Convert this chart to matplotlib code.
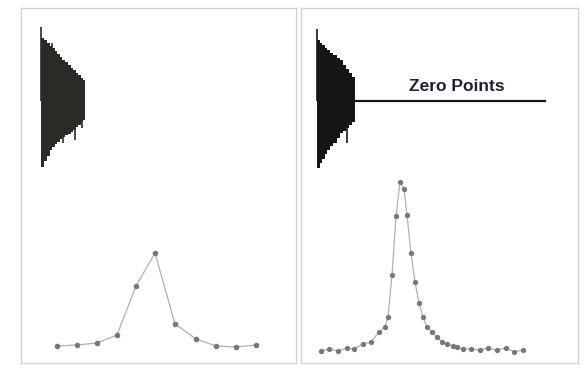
import matplotlib
matplotlib.use('Agg')
import matplotlib.pyplot as plt

# FID envelopes (time in px from panel edge, amplitude above/below baseline)
fid1_t = [20, 23, 26, 29, 31, 34, 36, 39, 41, 44, 47, 50, 52, 55, 57, 60, 62, 64]
fid1_top = [63, 61, 58, 55, 53, 50, 47, 44, 41, 39, 36, 33, 31, 28, 26, 23, 21, 21]
fid1_bot = [66, 60, 55, 49, 46, 43, 41, 38, 36, 34, 33, 31, 29, 26, 24, 21, 19, 19]
fid1_spk_t = [20, 31, 42, 54, 61]
fid1_spk_a = [74, 58, -42, -39, -27]

fid2_t = [16, 19, 21, 24, 26, 29, 32, 36, 39, 42, 45, 48, 51, 54]
fid2_top = [61, 58, 56, 53, 51, 48, 46, 43, 41, 36, 32, 28, 24, 19]
fid2_bot = [67, 62, 58, 53, 49, 45, 42, 37, 32, 30, 27, 24, 21, 19]
fid2_spk_t = [16, 23, 46]
fid2_spk_a = [72, 54, -42]
zero_t = [54, 244]

# spectra (frequency, intensity)
spec1_f = [36, 56, 76, 96, 115, 134, 154, 175, 195, 215, 235]
spec1_i = [17, 18, 20, 28, 77, 110, 39, 24, 17, 16, 18]

spec2_f = [20, 28, 37, 46, 53, 62, 70, 78, 84, 87, 91, 95, 99, 103, 106, 110, 114,
           118, 122, 126, 131, 136, 141, 146, 152, 156, 162, 170, 179, 187, 196,
           205, 213, 222]
spec2_i = [12, 14, 12, 15, 14, 19, 21, 31, 36, 46, 88, 147, 181, 174, 148, 110, 81,
           60, 46, 36, 31, 26, 21, 19, 17, 16, 14, 14, 13, 15, 13, 15, 11, 13]

base = 262
fid_col = '#2a2a26'

fig = plt.figure(figsize=(5.86, 3.74), dpi=100)
ax = fig.add_axes([21/586, 11/374, 275/586, 355/374])
bx = fig.add_axes([301/586, 11/374, 277/586, 355/374])

for a, w in ((ax, 275), (bx, 277)):
    a.set_xlim(0, w)
    a.set_ylim(0, 355)
    a.set_xticks([])
    a.set_yticks([])
    for s in a.spines.values():
        s.set_color('#d2d2d2')
        s.set_linewidth(1)

# left panel
ax.fill_between(fid1_t, [base + v for v in fid1_top], [base - v for v in fid1_bot],
                color=fid_col, lw=0, step='post')
ax.vlines(fid1_spk_t, base, [base + v for v in fid1_spk_a], color=fid_col, lw=1.2)
ax.plot(spec1_f, spec1_i, c='#b0b0b0', lw=0.9, marker='o', ms=3,
        mfc='#787878', mec='#787878')

# right panel
bx.fill_between(fid2_t, [base + v for v in fid2_top], [base - v for v in fid2_bot],
                color='#161614', lw=0, step='post')
bx.vlines(fid2_spk_t, base, [base + v for v in fid2_spk_a], color='#161614', lw=1.2)
bx.plot(zero_t, [base, base], c='#161614', lw=1.6)
bx.text(156, base + 7, 'Zero Points', ha='center', va='bottom', fontsize=12.5,
        fontweight='bold', family='Liberation Sans', color='#221d3d')
bx.plot(spec2_f, spec2_i, c='#b0b0b0', lw=0.9, marker='o', ms=2.8,
        mfc='#787878', mec='#787878')

fig.savefig('out.png', dpi=100)
